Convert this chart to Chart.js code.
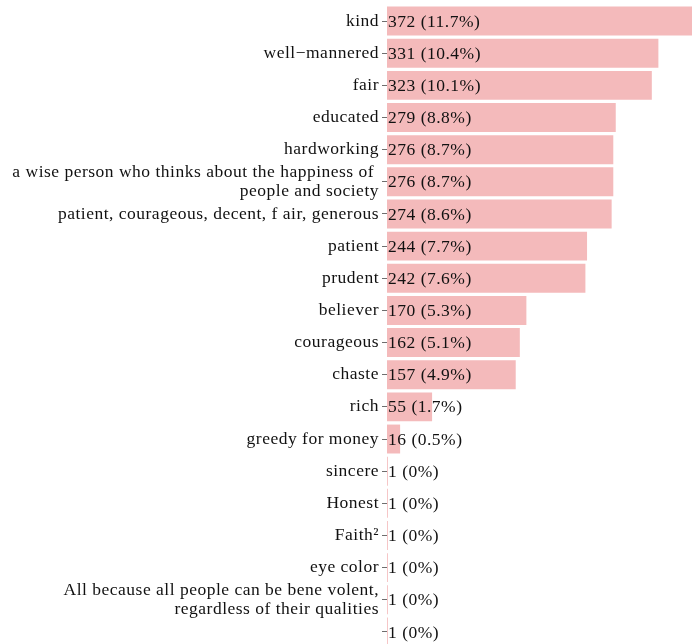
<!DOCTYPE html>
<html>
<head>
<meta charset="utf-8">
<script src="https://cdn.jsdelivr.net/npm/chart.js@4"></script>
<style>
  html, body { margin: 0; padding: 0; background: #fff; overflow: hidden; }
  #wrap { width: 692px; height: 648px; }
</style>
</head>
<body>
<div id="wrap"><canvas id="chart"></canvas></div>
<script>
const categories = [
  'kind',
  'well\u2212mannered',
  'fair',
  'educated',
  'hardworking',
  ['a wise person who thinks about the happiness of ', 'people and society'],
  'patient, courageous, decent, f air, generous',
  'patient',
  'prudent',
  'believer',
  'courageous',
  'chaste',
  'rich',
  'greedy for money',
  'sincere',
  'Honest',
  'Faith\u00b2',
  'eye color',
  ['All because all people can be bene volent,', 'regardless of their qualities'],
  ''
];
const counts = [372, 331, 323, 279, 276, 276, 274, 244, 242, 170, 162, 157, 55, 16, 1, 1, 1, 1, 1, 1];
const pctLabels = ['11.7%', '10.4%', '10.1%', '8.8%', '8.7%', '8.7%', '8.6%', '7.7%', '7.6%', '5.3%',
  '5.1%', '4.9%', '1.7%', '0.5%', '0%', '0%', '0%', '0%', '0%', '0%'];

const FONT = '"Liberation Serif", "Times New Roman", serif';
const SIZE = 17.5;

// the source render has slightly loose letter spacing; canvas resets lose it, so set it each pass
const spacing = {
  id: 'spacing',
  beforeUpdate(chart) { chart.ctx.letterSpacing = '0.5px'; },
  beforeLayout(chart) { chart.ctx.letterSpacing = '0.5px'; },
  beforeDraw(chart) { chart.ctx.letterSpacing = '0.5px'; }
};

// writes "n (p%)" at the start of each bar
const valueLabels = {
  id: 'valueLabels',
  afterDatasetsDraw(chart) {
    const ctx = chart.ctx;
    const meta = chart.getDatasetMeta(0);
    const x0 = chart.scales.x.getPixelForValue(0);
    ctx.save();
    ctx.font = SIZE + 'px ' + FONT;
    ctx.fillStyle = '#111';
    ctx.textAlign = 'left';
    ctx.textBaseline = 'middle';
    meta.data.forEach((bar, i) => {
      ctx.fillText(counts[i] + ' (' + pctLabels[i] + ')', x0 + 1, bar.y + 1);
    });
    ctx.restore();
  }
};

new Chart(document.getElementById('chart'), {
  type: 'bar',
  data: {
    labels: categories,
    datasets: [{
      data: counts,
      backgroundColor: '#f4babb',
      borderWidth: 0,
      barPercentage: 0.9,
      categoryPercentage: 1
    }]
  },
  options: {
    indexAxis: 'y',
    responsive: true,
    maintainAspectRatio: false,
    animation: false,
    layout: { padding: { top: 5, right: 0, bottom: 0, left: 0 } },
    plugins: { legend: { display: false }, tooltip: { enabled: false } },
    scales: {
      x: { display: false, min: 0, max: 372 },
      y: {
        afterFit: axis => {
          axis.width = 387;
          axis.paddingTop = 0;
          axis.paddingBottom = 0;
        },
        border: { display: false },
        grid: { offset: false, drawOnChartArea: false, tickLength: 5, color: '#6e6e6e', lineWidth: 1 },
        ticks: {
          autoSkip: false,
          padding: 3,
          color: '#111',
          font: { family: FONT, size: SIZE, lineHeight: 1.07 }
        }
      }
    }
  },
  plugins: [spacing, valueLabels]
});
</script>
</body>
</html>
